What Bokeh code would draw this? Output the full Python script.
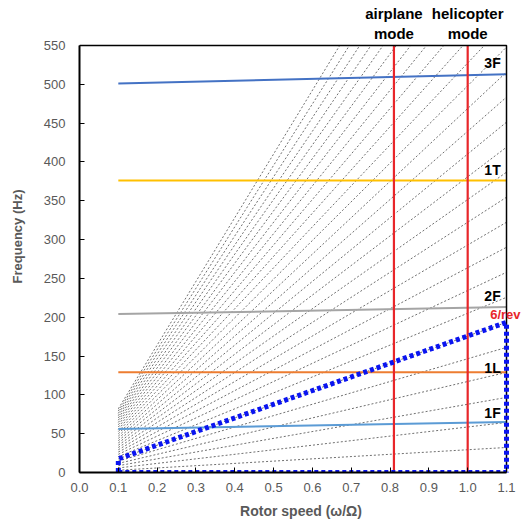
from bokeh.plotting import figure
from bokeh.models import Range1d, FixedTicker, PrintfTickFormatter, Label
from bokeh.embed import file_html
from bokeh.resources import INLINE

# ---- data ----
speed_min, speed_max = 0.1, 1.1          # rotor speed (omega/Omega) span
freq_max = 550                            # top of frequency axis
rev_freq_hz = 29.3                        # 1/rev frequency at omega/Omega = 1
harmonics = list(range(1, 29))            # n/rev lines
modes = ["1F", "1L", "2F", "1T", "3F"]
mode_freq_start = [56, 129, 204, 376, 501]
mode_freq_end = [65, 129, 213, 376, 513]
mode_colors = ["#5B9BD5", "#ED7D31", "#A5A5A5", "#FFC000", "#4472C4"]
mode_label_y = [77, 135, 227, 389, 528]
op_speeds = [0.81, 1.0]
op_names = [("airplane", "mode"), ("helicopter", "mode")]
excite_rev = 6
x_ticks = [0.0, 0.1, 0.2, 0.3, 0.4, 0.5, 0.6, 0.7, 0.8, 0.9, 1.0, 1.1]
y_ticks = [0, 50, 100, 150, 200, 250, 300, 350, 400, 450, 500, 550]

FONT = "Liberation Sans"
GREY = "#595959"

# frame extends beyond the axes box so that outside labels can be drawn
p = figure(width=522, height=525, output_backend="svg", toolbar_location=None,
           x_range=Range1d(0, 1.1412), y_range=Range1d(0, 607.9),
           min_border_left=79, min_border_right=0, min_border_top=0, min_border_bottom=53)
p.grid.visible = False
p.outline_line_color = None

for ax in (p.xaxis[0], p.yaxis[0]):
    ax.major_tick_in = 5
    ax.major_tick_out = 0
    ax.minor_tick_line_color = None
    ax.axis_line_color = "black"
    ax.axis_line_width = 2
    ax.major_tick_line_color = "black"
    ax.major_label_text_font = FONT
    ax.major_label_text_font_size = "13px"
    ax.major_label_text_color = GREY
    ax.axis_label_text_font = FONT
    ax.axis_label_text_font_style = "bold"
    ax.axis_label_text_color = GREY

p.xaxis.bounds = (0, speed_max)
p.yaxis.bounds = (0, freq_max)
p.xaxis.ticker = FixedTicker(ticks=x_ticks)
p.xaxis.formatter = PrintfTickFormatter(format="%.1f")
p.yaxis.ticker = FixedTicker(ticks=y_ticks)
p.xaxis.axis_label = "Rotor speed (\u03c9/\u03a9)"
p.xaxis.axis_label_text_font_size = "14px"
p.yaxis.axis_label = "Frequency (Hz)"
p.yaxis.axis_label_text_font_size = "13px"
p.xaxis.major_label_standoff = 10
p.yaxis.major_label_standoff = 14
p.xaxis.axis_label_standoff = 8
p.yaxis.axis_label_standoff = 16

# per-rev lines (clipped at the top of the axes box)
xs, ys = [], []
for n in harmonics:
    x_end = min(speed_max, freq_max / (n * rev_freq_hz))
    xs.append([speed_min, x_end])
    ys.append([n * rev_freq_hz * speed_min, n * rev_freq_hz * x_end])
p.multi_line(xs, ys, line_color="#606060", line_width=0.9, line_dash="2 2")

# mode lines
for f0, f1, c in zip(mode_freq_start, mode_freq_end, mode_colors):
    p.line([speed_min, speed_max], [f0, f1], line_color=c, line_width=2)

# operating speed lines
for s in op_speeds:
    p.line([s, s], [0, freq_max], line_color="#E8262A", line_width=2.2)

# box top and right edges
p.line([0, speed_max, speed_max], [freq_max, freq_max, 0], line_color="black", line_width=1.5)

# excitation region (6/rev)
e0 = excite_rev * rev_freq_hz * speed_min
e1 = excite_rev * rev_freq_hz * speed_max
p.line([speed_min, speed_max, speed_max, speed_min, speed_min],
       [0, 0, e1, e0, 0], line_color="#0A14F0", line_width=5, line_dash="4 3")

# labels
for name, ly in zip(modes, mode_label_y):
    p.add_layout(Label(x=1.085, y=ly, text=name, text_align="right", text_baseline="middle",
                       text_font=FONT, text_font_style="bold", text_font_size="14px",
                       text_color="black"))
p.add_layout(Label(x=1.058, y=203, text=f"{excite_rev}/rev", text_align="left",
                   text_baseline="middle", text_font=FONT, text_font_style="bold",
                   text_font_size="13px", text_color="#E8262A"))
for s, (l1, l2) in zip(op_speeds, op_names):
    p.add_layout(Label(x=s, y=591, text=l1, text_align="center", text_baseline="middle",
                       text_font=FONT, text_font_style="bold", text_font_size="15px",
                       text_color="black"))
    p.add_layout(Label(x=s, y=566, text=l2, text_align="center", text_baseline="middle",
                       text_font=FONT, text_font_style="bold", text_font_size="15px",
                       text_color="black"))

open("out.html", "w").write(file_html(p, INLINE))
